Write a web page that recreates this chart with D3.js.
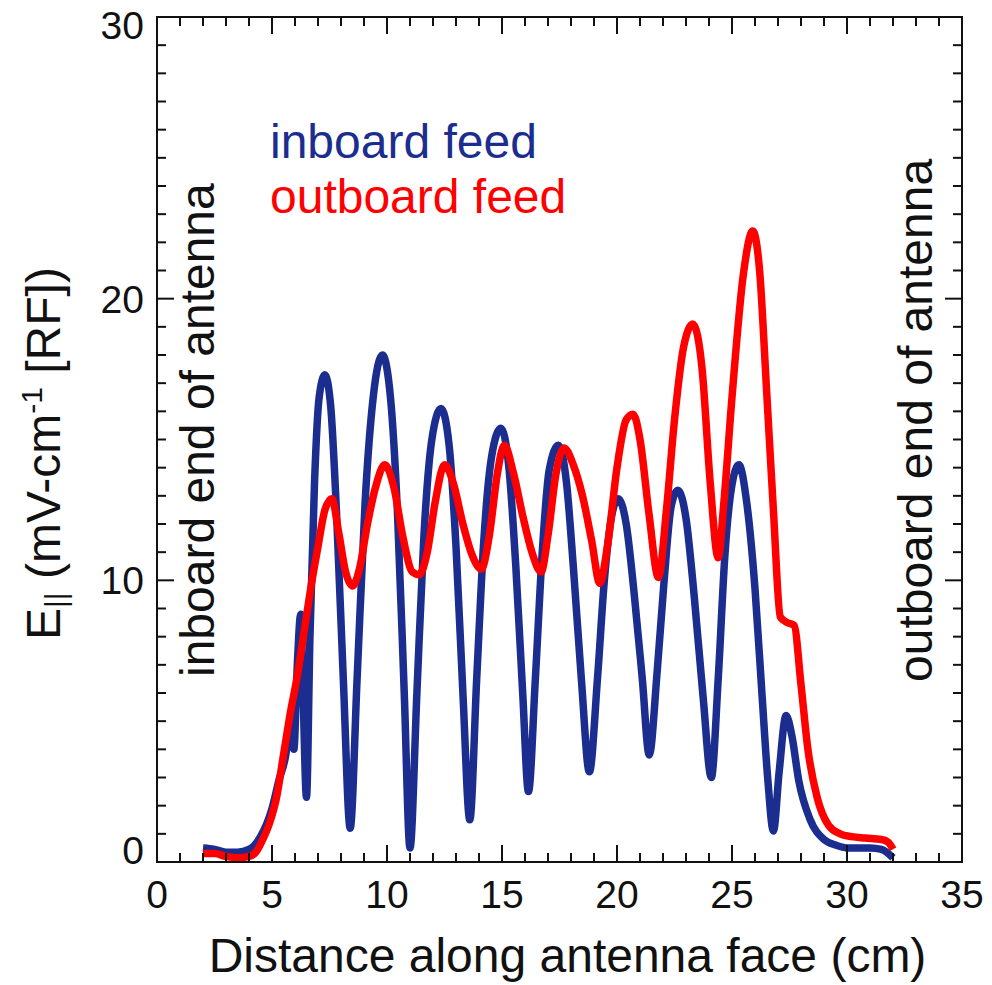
<!DOCTYPE html>
<head>
	<meta charset="utf-8" />
	<style>
		body {
			margin: 0;
			background: #fff;
		}
		text {
			font-family: 'Liberation Sans', Arial, Helvetica, sans-serif;
			fill: #111;
		}
	</style>
</head>
<body>
	<div id="chart-area"></div>
	<script src="https://cdnjs.cloudflare.com/ajax/libs/d3/7.8.5/d3.min.js"></script>
	<script>
		// inboard feed (blue)
		var inboardX = [2.0, 2.5, 3.0, 3.5, 4.0, 4.5, 5.0, 5.3, 5.6, 5.8, 5.95, 6.1, 6.25, 6.35, 6.5, 6.65, 6.85, 7.05, 7.3, 7.55, 7.8, 8.1, 8.4, 8.7, 9.05, 9.4, 9.8, 10.15, 10.45, 10.75, 11.0, 11.3, 11.6, 11.95, 12.35, 12.7, 13.0, 13.3, 13.6, 13.9, 14.2, 14.55, 14.95, 15.3, 15.6, 15.9, 16.15, 16.45, 16.75, 17.05, 17.45, 17.8, 18.1, 18.45, 18.8, 19.15, 19.45, 19.75, 20.05, 20.4, 20.75, 21.1, 21.4, 21.75, 22.05, 22.35, 22.65, 23.0, 23.35, 23.75, 24.1, 24.4, 24.7, 25.0, 25.3, 25.65, 26.0, 26.3, 26.55, 26.8, 27.05, 27.35, 27.6, 27.9, 28.4, 29.0, 29.5, 30.0, 30.5, 31.0, 31.5, 32.0];
		var inboardY = [0.5, 0.45, 0.35, 0.35, 0.45, 0.9, 1.9, 2.9, 3.8, 5.0, 4.0, 7.0, 8.8, 6.0, 2.3, 8.0, 13.5, 16.5, 17.3, 16.2, 12.5, 6.5, 1.2, 6.5, 12.8, 16.5, 18.0, 16.5, 12.5, 6.0, 0.5, 6.0, 11.5, 15.0, 16.1, 14.8, 11.2, 6.0, 1.5, 6.5, 11.3, 14.4, 15.4, 14.0, 10.5, 6.0, 2.5, 6.5, 11.0, 13.9, 14.8, 13.5, 10.5, 6.5, 3.2, 6.5, 10.0, 12.2, 12.9, 12.0, 9.5, 6.5, 3.8, 6.8, 10.0, 12.6, 13.2, 12.2, 9.5, 5.8, 3.0, 6.5, 11.0, 13.4, 14.1, 12.7, 9.7, 6.0, 3.0, 1.1, 3.2, 5.2, 4.5, 2.9, 1.5, 0.8, 0.6, 0.5, 0.5, 0.5, 0.45, 0.15];

		// outboard feed (red)
		var outboardX = [2.0, 2.5, 3.0, 3.5, 4.0, 4.3, 4.6, 4.9, 5.2, 5.5, 5.8, 6.1, 6.4, 6.7, 7.0, 7.3, 7.6, 7.9, 8.2, 8.5, 8.8, 9.15, 9.5, 9.9, 10.3, 10.7, 11.1, 11.4, 11.75, 12.1, 12.5, 12.9, 13.3, 13.7, 14.1, 14.45, 14.8, 15.1, 15.5, 15.9, 16.3, 16.7, 17.0, 17.35, 17.7, 18.1, 18.5, 18.9, 19.25, 19.6, 20.0, 20.4, 20.7, 21.0, 21.4, 21.8, 22.15, 22.5, 22.9, 23.3, 23.7, 24.05, 24.4, 24.65, 25.0, 25.5, 25.9, 26.2, 26.5, 26.8, 27.1, 27.4, 27.7, 28.0, 28.3, 28.7, 29.2, 29.7, 30.2, 30.8, 31.5, 31.8, 32.0];
		var outboardY = [0.3, 0.3, 0.2, 0.15, 0.2, 0.35, 0.8, 1.4, 2.3, 3.8, 5.3, 6.6, 8.2, 9.8, 11.2, 12.5, 12.9, 11.7, 10.3, 9.8, 10.4, 12.0, 13.3, 14.1, 13.3, 11.5, 10.3, 10.2, 11.0, 12.8, 14.1, 13.4, 12.0, 10.9, 10.4, 11.6, 13.8, 14.8, 13.8, 12.3, 11.0, 10.3, 11.6, 13.8, 14.7, 14.1, 13.0, 11.4, 9.9, 11.3, 14.0, 15.7, 15.9, 15.0, 12.3, 10.1, 12.5, 15.7, 18.3, 19.1, 17.5, 13.5, 10.8, 12.8, 16.5, 20.9, 22.4, 21.0, 16.8, 12.5, 8.7, 8.5, 8.4, 6.3, 4.0, 2.3, 1.3, 1.0, 0.9, 0.85, 0.8, 0.7, 0.45];

		var xTicks = [0, 5, 10, 15, 20, 25, 30, 35];
		var yTicks = [0, 10, 20, 30];

		var W = 992, H = 985;
		var margins = { top: 17, right: 30, bottom: 123, left: 157 };

		var svg = d3.select('#chart-area').append('svg')
			.attr('width', W)
			.attr('height', H);

		var x = d3.scaleLinear().domain([0, 35]).range([margins.left, W - margins.right]);
		var y = d3.scaleLinear().domain([0, 30]).range([H - margins.bottom, margins.top]);

		var x0 = x.range()[0], x1 = x.range()[1];
		var y0 = y.range()[0], y1 = y.range()[1];

		// curves
		var line = d3.line()
			.x(d => x(d[0]))
			.y(d => y(d[1]))
			.curve(d3.curveMonotoneX);

		var inboard = inboardX.map((v, i) => [v, inboardY[i]]);
		var outboard = outboardX.map((v, i) => [v, outboardY[i]]);

		svg.append('path')
			.datum(inboard)
			.attr('d', line)
			.attr('fill', 'none')
			.attr('stroke', '#1b2d8f')
			.attr('stroke-width', 7.5)
			.attr('stroke-linejoin', 'round');

		svg.append('path')
			.datum(outboard)
			.attr('d', line)
			.attr('fill', 'none')
			.attr('stroke', '#ff0000')
			.attr('stroke-width', 7.5)
			.attr('stroke-linejoin', 'round');

		// frame + inward ticks on all four sides
		var minorX = d3.range(0, 36, 1);
		var minorY = d3.range(0, 31, 1);
		var tickLen = v => (v % 5 === 0 ? 17 : 9);
		var tickLenY = v => (v % 10 === 0 ? 17 : 9);

		var axes = svg.append('g').attr('stroke', '#111').attr('stroke-width', 2);
		axes.append('rect')
			.attr('x', x0).attr('y', y1)
			.attr('width', x1 - x0).attr('height', y0 - y1)
			.attr('fill', 'none');

		axes.selectAll('.xb').data(minorX).join('line')
			.attr('x1', d => x(d)).attr('x2', d => x(d))
			.attr('y1', y0).attr('y2', d => y0 - tickLen(d));
		axes.selectAll('.xt').data(minorX).join('line')
			.attr('x1', d => x(d)).attr('x2', d => x(d))
			.attr('y1', y1).attr('y2', d => y1 + tickLen(d));
		axes.selectAll('.yl').data(minorY).join('line')
			.attr('y1', d => y(d)).attr('y2', d => y(d))
			.attr('x1', x0).attr('x2', d => x0 + tickLenY(d));
		axes.selectAll('.yr').data(minorY).join('line')
			.attr('y1', d => y(d)).attr('y2', d => y(d))
			.attr('x1', x1).attr('x2', d => x1 - tickLenY(d));

		// tick labels
		svg.selectAll('.xl').data(xTicks).join('text')
			.attr('x', d => x(d))
			.attr('y', y0 + 46)
			.attr('text-anchor', 'middle')
			.style('font-size', '39px')
			.text(d => d);

		svg.selectAll('.ylab').data(yTicks).join('text')
			.attr('x', x0 - 13)
			.attr('y', d => y(d) + 14 + (d === 0 ? -12 : d === 30 ? 8 : 0))
			.attr('text-anchor', 'end')
			.style('font-size', '39px')
			.text(d => d);

		// axis titles
		svg.append('text')
			.attr('x', (x0 + x1) / 2 + 8)
			.attr('y', 972)
			.attr('text-anchor', 'middle')
			.style('font-size', '48px')
			.text('Distance along antenna face (cm)');

		var yt = svg.append('text')
			.attr('transform', 'translate(60,640) rotate(-90)')
			.style('font-size', '48px');
		yt.append('tspan').text('E');
		yt.append('tspan').attr('dy', 6).style('font-size', '30px').text('||');
		yt.append('tspan').attr('dy', -6).text('  (mV-cm');
		yt.append('tspan').attr('dy', -18).style('font-size', '30px').text('-1');
		yt.append('tspan').attr('dy', 18).text(' [RF])');

		// side annotations
		svg.append('text')
			.attr('transform', 'translate(214,677) rotate(-90)')
			.style('font-size', '48px')
			.text('inboard end of antenna');

		svg.append('text')
			.attr('transform', 'translate(932,682) rotate(-90)')
			.style('font-size', '48px')
			.text('outboard end of antenna');

		// legend
		svg.append('text')
			.attr('x', 270).attr('y', 158)
			.style('font-size', '48px')
			.style('fill', '#1b2d8f')
			.text('inboard feed');

		svg.append('text')
			.attr('x', 270).attr('y', 213)
			.style('font-size', '48px')
			.style('fill', '#ff0000')
			.text('outboard feed');
	</script>
</body>
